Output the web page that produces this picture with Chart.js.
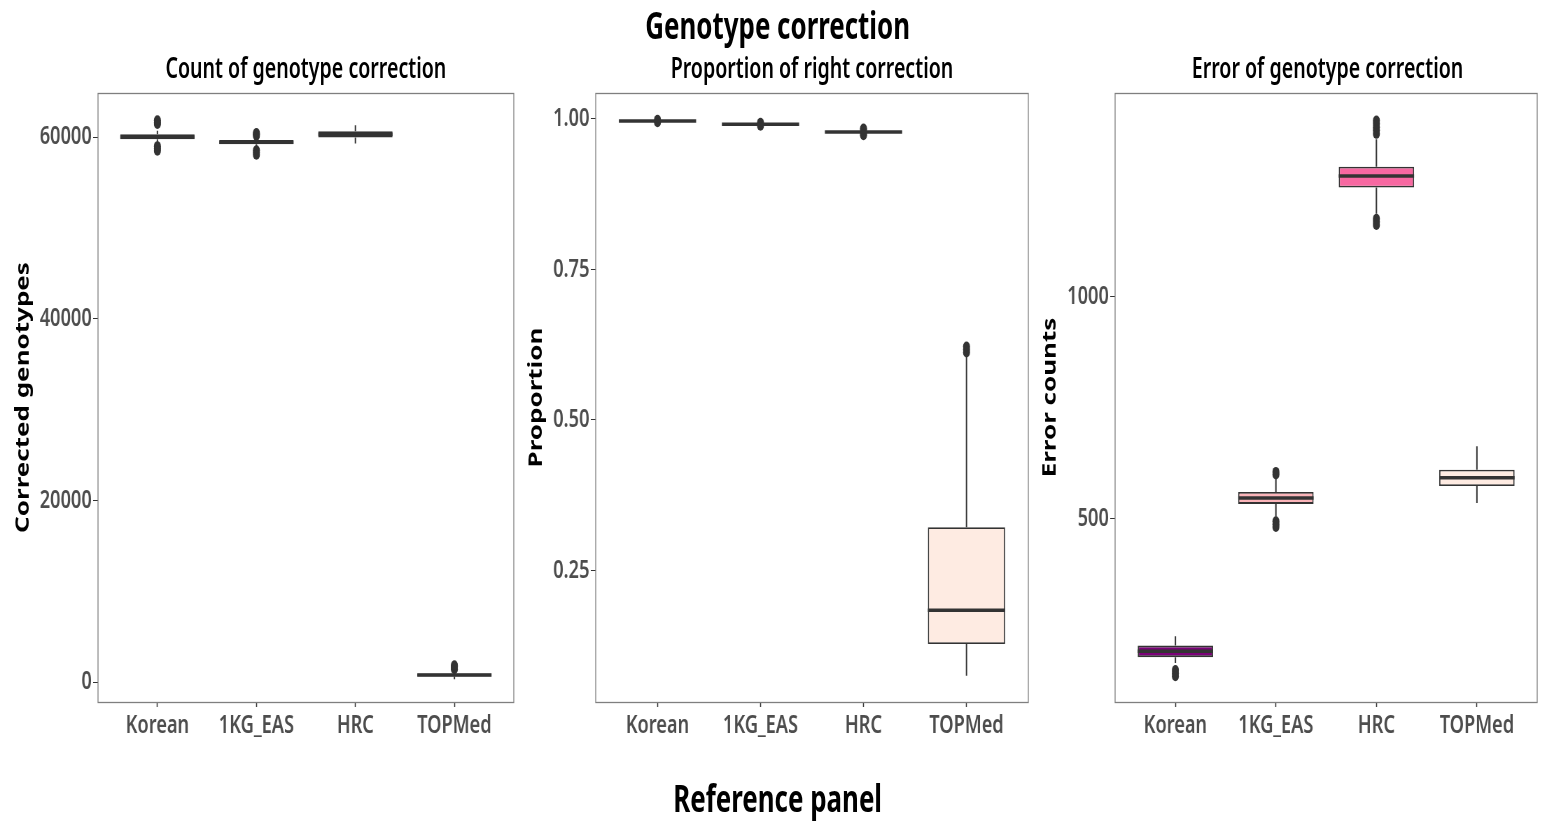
<!DOCTYPE html>
<html>
<head>
<meta charset="utf-8">
<script src="https://cdn.jsdelivr.net/npm/chart.js@4.4.1/dist/chart.umd.min.js"></script>
<style>
  html, body { margin: 0; background: #fff; overflow: hidden; }
  /* the figure is laid out wide and squeezed horizontally, like the original export */
  #wrap { position: relative; width: 2201px; height: 826px; transform: scaleX(0.7); transform-origin: 0 0; }
  canvas { position: absolute; top: 0; }
  .txt { position: absolute; text-align: center; color: #000; white-space: nowrap; line-height: 1;
         font-family: "Noto Sans", "Open Sans", sans-serif; }
</style>
</head>
<body>
<div id="wrap">
  <div class="txt" style="left:811px;width:600px;top:6px;font-size:37px;font-weight:bold;">Genotype correction</div>
  <div class="txt" style="left:140px;width:594px;top:53px;font-size:28px;font-weight:600;">Count of genotype correction</div>
  <div class="txt" style="left:851px;width:618px;top:53px;font-size:28px;font-weight:600;">Proportion of right correction</div>
  <div class="txt" style="left:1593px;width:607px;top:53px;font-size:28px;font-weight:600;">Error of genotype correction</div>
  <div class="txt" style="left:811px;width:600px;top:779px;font-size:37px;font-weight:bold;">Reference panel</div>
  <canvas id="c1" width="743" height="826" style="left:0px"></canvas>
  <canvas id="c2" width="736" height="826" style="left:743px"></canvas>
  <canvas id="c3" width="722" height="826" style="left:1479px"></canvas>
</div>
<script>
const categories = ["Korean", "1KG_EAS", "HRC", "TOPMed"];
const fills = ["#7A0177", "#FBB4B9", "#F768A1", "#FEEBE2"];

// Count of genotype correction
const countLow = [59300, 58900, 59300, 300];
const countQ1 = [59750, 59200, 59950, 600];
const countMedian = [60000, 59430, 60300, 770];
const countQ3 = [60300, 59670, 60650, 940];
const countHigh = [60700, 59950, 61300, 1300];
const countOutliers = [[61450, 61600, 61850, 59000, 58750, 58500], [60150, 60300, 60450, 58550, 58300, 58050], [], [1400, 1550, 1700, 1850]];
const countTicks = [0, 20000, 40000, 60000];

// Proportion of right correction
const propLow = [0.9955, 0.9895, 0.9765, 0.075];
const propQ1 = [0.9963, 0.9905, 0.9778, 0.128];
const propMedian = [0.9967, 0.991, 0.9784, 0.184];
const propQ3 = [0.9971, 0.9915, 0.979, 0.322];
const propHigh = [0.998, 0.9925, 0.9805, 0.608];
const propOutliers = [[0.9985, 0.9945], [0.9935, 0.9885], [0.984, 0.982, 0.975, 0.973], [0.612, 0.617, 0.622]];
const propTicks = [0.25, 0.50, 0.75, 1.00];

// Error of genotype correction
const errLow = [176, 505, 1187, 536];
const errQ1 = [189, 534, 1246, 574];
const errMedian = [202, 547, 1272, 593];
const errQ3 = [215, 561, 1293, 611];
const errHigh = [236, 590, 1355, 664];
const errOutliers = [[160, 153, 146], [606, 600, 495, 488, 482], [1367, 1375, 1382, 1390, 1397, 1176, 1169, 1162], []];
const errTicks = [500, 1000];

const FONT = '"Noto Sans", "Open Sans", sans-serif';
const INK = "#333333";

const boxExtras = {
  id: "boxExtras",
  beforeDatasetsDraw(chart) {
    const s = chart.$stats, ctx = chart.ctx, y = chart.scales.y, x = chart.scales.x;
    ctx.save();
    ctx.strokeStyle = INK;
    ctx.lineWidth = 2;
    s.q1.forEach((q, i) => {
      const px = x.getPixelForValue(i);
      ctx.beginPath();
      ctx.moveTo(px, y.getPixelForValue(s.low[i]));
      ctx.lineTo(px, y.getPixelForValue(q));
      ctx.moveTo(px, y.getPixelForValue(s.q3[i]));
      ctx.lineTo(px, y.getPixelForValue(s.high[i]));
      ctx.stroke();
    });
    ctx.restore();
  },
  afterDatasetsDraw(chart) {
    const s = chart.$stats, ctx = chart.ctx, y = chart.scales.y;
    const bars = chart.getDatasetMeta(0).data;
    ctx.save();
    ctx.strokeStyle = INK;
    ctx.lineWidth = 3.5;
    s.median.forEach((m, i) => {
      const b = bars[i], py = y.getPixelForValue(m);
      ctx.beginPath();
      ctx.moveTo(b.x - b.width / 2, py);
      ctx.lineTo(b.x + b.width / 2, py);
      ctx.stroke();
    });
    ctx.restore();
  },
  afterDraw(chart) {
    const a = chart.chartArea, ctx = chart.ctx;
    ctx.save();
    ctx.strokeStyle = "#7f7f7f";
    ctx.lineWidth = 1.3;
    ctx.strokeRect(a.left, Math.round(a.top) + 0.5, a.right - a.left, Math.round(a.bottom - a.top));
    ctx.restore();
  }
};

function makePanel(id, stats, outliers, ticks, yMin, yMax, yTitle, axisWidth, titlePad, rightPad, fmt) {
  return new Chart(document.getElementById(id), {
    data: {
      datasets: [
        {
          type: "bar",
          data: categories.map((c, i) => ({ x: i, y: [stats.q1[i], stats.q3[i]] })),
          backgroundColor: fills,
          borderColor: INK,
          borderWidth: 1.8,
          borderSkipped: false,
          categoryPercentage: 1,
          barPercentage: 0.75,
          order: 2
        },
        {
          type: "scatter",
          data: outliers.flatMap((arr, i) => arr.map(v => ({ x: i, y: v }))),
          pointRadius: 5,
          pointBackgroundColor: INK,
          pointBorderWidth: 0,
          order: 1
        }
      ]
    },
    options: {
      responsive: false,
      animation: false,
      events: [],
      layout: { padding: { top: 93, bottom: 84, left: 0, right: rightPad } },
      plugins: { legend: { display: false }, tooltip: { enabled: false } },
      scales: {
        x: {
          type: "linear",
          offset: false,
          min: -0.6,
          max: 3.6,
          afterBuildTicks: s => { s.ticks = categories.map((c, i) => ({ value: i })); },
          afterFit: s => { s.height = 40; },
          border: { display: false },
          grid: { offset: false, drawOnChartArea: false, tickLength: 5, tickColor: INK, tickWidth: 1.5 },
          ticks: {
            padding: 3,
            color: "#4d4d4d",
            maxRotation: 0,
            font: { family: FONT, size: 26, weight: "600" },
            callback: v => categories[v]
          }
        },
        y: {
          type: "linear",
          min: yMin,
          max: yMax,
          afterBuildTicks: s => { s.ticks = ticks.map(v => ({ value: v })); },
          afterFit: s => { s.width = axisWidth; },
          border: { display: false },
          grid: { drawOnChartArea: false, tickLength: 7, tickColor: INK, tickWidth: 1 },
          ticks: {
            padding: 2,
            color: "#4d4d4d",
            font: { family: FONT, size: 26, weight: "600" },
            callback: fmt
          },
          title: {
            display: true,
            text: yTitle,
            color: "#000",
            padding: { top: titlePad, bottom: 0 },
            font: { family: FONT, size: 26, weight: "bold" }
          }
        }
      }
    },
    plugins: [{
      id: "stats",
      beforeInit(c) { c.$stats = stats; }
    }, boxExtras]
  });
}

makePanel("c1",
  { low: countLow, q1: countQ1, median: countMedian, q3: countQ3, high: countHigh },
  countOutliers, countTicks, -2200, 64850, "Corrected genotypes", 140, 18, 9, v => String(v));

makePanel("c2",
  { low: propLow, q1: propQ1, median: propMedian, q3: propQ3, high: propHigh },
  propOutliers, propTicks, 0.0316, 1.043, "Proportion", 108, 8, 10, v => v.toFixed(2));

makePanel("c3",
  { low: errLow, q1: errQ1, median: errMedian, q3: errQ3, high: errHigh },
  errOutliers, errTicks, 88, 1459, "Error counts", 114, 6, 1, v => String(v));
</script>
</body>
</html>
